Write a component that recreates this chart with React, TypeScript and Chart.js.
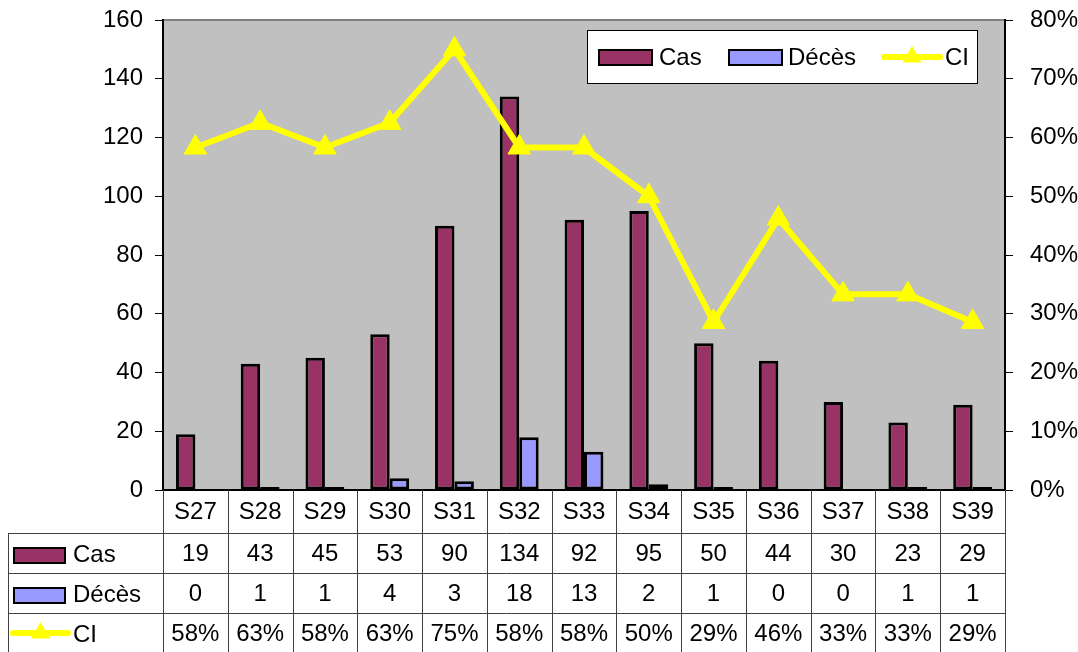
import React, { useEffect, useRef } from "react";
import { Chart, registerables } from "chart.js";

Chart.register(...registerables);

const weeks = ["S27", "S28", "S29", "S30", "S31", "S32", "S33", "S34", "S35", "S36", "S37", "S38", "S39"];
const casValues = [19, 43, 45, 53, 90, 134, 92, 95, 50, 44, 30, 23, 29];
const decesValues = [0, 1, 1, 4, 3, 18, 13, 2, 1, 0, 0, 1, 1];
const ciValues = [0.583, 0.625, 0.583, 0.625, 0.75, 0.583, 0.583, 0.5, 0.286, 0.462, 0.333, 0.333, 0.286];

const CAS_COLOR = "#993366";
const DECES_COLOR = "#9999FF";
const CI_COLOR = "#FFFF00";
const FAMILY = "'Liberation Sans', Arial, sans-serif";
const FONT = `24px ${FAMILY}`;

const pct = (v: number) => Math.round(v * 100) + "%";

function drawTriangle(ctx: CanvasRenderingContext2D, x: number, y: number, r: number) {
  ctx.beginPath();
  for (let k = 0; k < 3; k++) {
    const a = (k * 2 * Math.PI) / 3;
    const px = x + Math.sin(a) * r;
    const py = y - Math.cos(a) * r;
    if (k === 0) ctx.moveTo(px, py);
    else ctx.lineTo(px, py);
  }
  ctx.closePath();
  ctx.fill();
}

function drawKey(ctx: CanvasRenderingContext2D, kind: string, color: string, x0: number, x1: number, cy: number) {
  ctx.save();
  if (kind === "bar") {
    ctx.fillStyle = color;
    ctx.fillRect(x0, cy - 7, x1 - x0, 15);
    ctx.strokeStyle = "#000";
    ctx.lineWidth = 2;
    ctx.strokeRect(x0, cy - 7, x1 - x0, 15);
  } else {
    ctx.strokeStyle = color;
    ctx.fillStyle = color;
    ctx.lineWidth = 6;
    ctx.lineCap = "round";
    ctx.beginPath();
    ctx.moveTo(x0, cy);
    ctx.lineTo(x1, cy);
    ctx.stroke();
    drawTriangle(ctx, (x0 + x1) / 2, cy, 11);
  }
  ctx.restore();
}

const plotBgPlugin = {
  id: "plotBg",
  beforeDraw(chart: any) {
    const { ctx, chartArea: a } = chart;
    ctx.save();
    ctx.fillStyle = "#C0C0C0";
    ctx.fillRect(a.left, a.top, a.right - a.left, a.bottom - a.top);
    ctx.strokeStyle = "#808080";
    ctx.lineWidth = 2;
    ctx.beginPath();
    ctx.moveTo(a.left, a.top);
    ctx.lineTo(a.right, a.top);
    ctx.stroke();
    ctx.restore();
  },
};

const legendTablePlugin = {
  id: "legendTable",
  afterDraw(chart: any) {
    const { ctx, chartArea: a } = chart;
    const xs = chart.scales.x;
    const n = weeks.length;
    const step = (xs.right - xs.left) / n;
    ctx.save();

    // Legend box
    const lx = 587, ly = 30, lw = 390, lh = 53;
    ctx.fillStyle = "#FFFFFF";
    ctx.fillRect(lx, ly, lw, lh);
    ctx.strokeStyle = "#000";
    ctx.lineWidth = 1;
    ctx.strokeRect(lx + 0.5, ly + 0.5, lw, lh);
    const lcy = 57;
    ctx.font = FONT;
    ctx.fillStyle = "#000";
    ctx.textBaseline = "middle";
    ctx.textAlign = "left";
    drawKey(ctx, "bar", CAS_COLOR, 599, 652, lcy);
    ctx.fillStyle = "#000";
    ctx.fillText("Cas", 659, lcy + 1);
    drawKey(ctx, "bar", DECES_COLOR, 729, 782, lcy);
    ctx.fillStyle = "#000";
    ctx.fillText("Décès", 788, lcy + 1);
    drawKey(ctx, "line", CI_COLOR, 884, 940, lcy);
    ctx.fillStyle = "#000";
    ctx.fillText("CI", 945, lcy + 1);

    // Data table
    const rowLines = [533, 573, 613];
    const tableLeft = 8;
    const bottom = 652;
    const top = a.bottom;
    ctx.strokeStyle = "#404040";
    ctx.lineWidth = 1;
    ctx.beginPath();
    for (const y of rowLines) {
      ctx.moveTo(tableLeft, y + 0.5);
      ctx.lineTo(xs.right, y + 0.5);
    }
    ctx.moveTo(tableLeft + 0.5, rowLines[0]);
    ctx.lineTo(tableLeft + 0.5, bottom);
    for (let i = 0; i <= n; i++) {
      const x = Math.round(xs.left + i * step) + 0.5;
      ctx.moveTo(x, top);
      ctx.lineTo(x, bottom);
    }
    ctx.stroke();

    const rowCenters = [512, 554, 594, 634];
    ctx.fillStyle = "#000";
    ctx.font = FONT;
    ctx.textAlign = "center";
    ctx.textBaseline = "middle";
    for (let i = 0; i < n; i++) {
      const cx = xs.getPixelForValue(i);
      ctx.fillText(weeks[i], cx, rowCenters[0]);
      ctx.fillText(String(casValues[i]), cx, rowCenters[1]);
      ctx.fillText(String(decesValues[i]), cx, rowCenters[2]);
      ctx.fillText(pct(ciValues[i]), cx, rowCenters[3]);
    }

    // Row labels with keys
    ctx.textAlign = "left";
    drawKey(ctx, "bar", CAS_COLOR, 14, 65, rowCenters[1] + 1);
    drawKey(ctx, "bar", DECES_COLOR, 14, 65, rowCenters[2] + 1);
    drawKey(ctx, "line", CI_COLOR, 13, 68, rowCenters[3] - 1);
    ctx.fillStyle = "#000";
    ctx.font = FONT;
    ctx.fillText("Cas", 73, rowCenters[1] + 1);
    ctx.fillText("Décès", 73, rowCenters[2] + 1);
    ctx.fillText("CI", 73, rowCenters[3] + 1);

    ctx.restore();
  },
};

export default function App() {
  const canvasRef = useRef<HTMLCanvasElement | null>(null);

  useEffect(() => {
    document.body.style.margin = "0";
    const canvas = canvasRef.current;
    if (!canvas) return;
    Chart.defaults.font.family = FAMILY;
    Chart.defaults.font.size = 24;
    Chart.defaults.color = "#000";

    const chart = new Chart(canvas, {
      type: "bar",
      data: {
        labels: weeks,
        datasets: [
          {
            type: "line",
            label: "CI",
            data: ciValues,
            yAxisID: "y1",
            borderColor: CI_COLOR,
            backgroundColor: CI_COLOR,
            borderWidth: 6,
            borderJoinStyle: "round",
            borderCapStyle: "round",
            tension: 0,
            pointStyle: "triangle",
            pointRadius: 13,
            pointBackgroundColor: CI_COLOR,
            pointBorderColor: CI_COLOR,
            pointBorderWidth: 1,
          } as any,
          {
            type: "bar",
            label: "Cas",
            data: casValues,
            yAxisID: "y",
            backgroundColor: CAS_COLOR,
            borderColor: "#000",
            borderWidth: 3,
            borderSkipped: false,
            barPercentage: 1,
            categoryPercentage: 0.6,
          },
          {
            type: "bar",
            label: "Décès",
            data: decesValues,
            yAxisID: "y",
            backgroundColor: DECES_COLOR,
            borderColor: "#000",
            borderWidth: 3,
            borderSkipped: false,
            barPercentage: 1,
            categoryPercentage: 0.6,
          },
        ],
      },
      options: {
        animation: false,
        responsive: false,
        layout: { padding: { top: 20, left: 0, right: 0, bottom: 0 } },
        plugins: { legend: { display: false }, tooltip: { enabled: false } },
        scales: {
          x: {
            grid: { display: false },
            ticks: { display: false },
            border: { color: "#000", width: 2 },
            afterFit(s: any) {
              s.height = 162;
              s.paddingLeft = 0;
              s.paddingRight = 0;
            },
          },
          y: {
            position: "left",
            min: 0,
            max: 160,
            ticks: { stepSize: 20, padding: 12, color: "#000", font: { size: 24 } },
            grid: { drawOnChartArea: false, tickLength: 8, color: "#000", lineWidth: 1 },
            border: { color: "#000", width: 2 },
            afterFit(s: any) {
              s.width = 163;
              s.paddingTop = 0;
              s.paddingBottom = 0;
            },
          },
          y1: {
            position: "right",
            min: 0,
            max: 0.8,
            ticks: {
              stepSize: 0.1,
              padding: 17,
              color: "#000",
              font: { size: 24 },
              callback: (v: any) => pct(Number(v)),
            },
            grid: { drawOnChartArea: false, tickLength: 8, color: "#000", lineWidth: 1 },
            border: { color: "#000", width: 2 },
            afterFit(s: any) {
              s.width = 73;
              s.paddingTop = 0;
              s.paddingBottom = 0;
            },
          },
        },
      } as any,
      plugins: [plotBgPlugin, legendTablePlugin],
    });
    return () => chart.destroy();
  }, []);

  return (
    <div style={{ position: "absolute", left: 0, top: 0, width: 1078, height: 652 }}>
      <canvas ref={canvasRef} width={1078} height={652} style={{ display: "block" }} />
    </div>
  );
}
